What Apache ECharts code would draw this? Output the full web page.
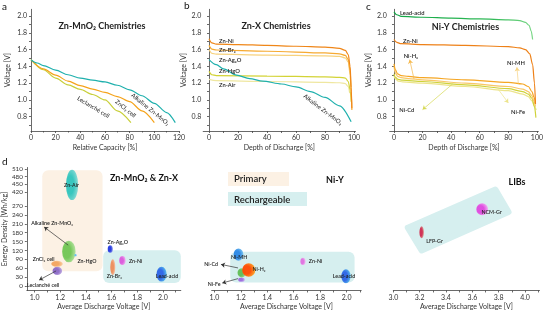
<!DOCTYPE html>
<html>
<head>
<meta charset="utf-8">
<title>Battery chemistries</title>
<script src="https://cdn.jsdelivr.net/npm/echarts@6.0.0/dist/echarts.min.js"></script>
<style>
html, body { margin: 0; padding: 0; background: #fff; }
#main { width: 546px; height: 316px; }
</style>
</head>
<body>
<div id="main"></div>
<script>
var chart = echarts.init(document.getElementById('main'));
var FONT = 'Lato';

// ---- a: Zn-MnO2 chemistries  [relative capacity %, V]
var aAlkaline = [[0,1.48],[5,1.44],[10,1.41],[20,1.355],[30,1.30],[40,1.26],[50,1.235],[60,1.215],[70,1.175],[80,1.12],[90,1.05],[100,0.96],[110,0.85],[117,0.73]];
var aZnCl2 = [[0,1.48],[10,1.37],[20,1.295],[30,1.225],[40,1.17],[50,1.13],[60,1.09],[70,1.04],[80,0.98],[90,0.87],[100,0.73]];
var aLeclanche = [[0,1.48],[10,1.36],[20,1.26],[30,1.18],[40,1.125],[50,1.065],[60,1.0],[70,0.87],[81,0.73]];

// ---- b: Zn-X chemistries  [depth of discharge %, V]
var bZnNi = [[0,1.73],[2,1.68],[5,1.665],[20,1.66],[40,1.65],[60,1.64],[80,1.63],[90,1.615],[94,1.59],[96,1.54],[97.3,1.4],[98,1.15],[98.5,0.9]];
var bZnBr2 = [[0,1.65],[2,1.605],[5,1.595],[40,1.58],[80,1.56],[90,1.55],[94,1.53],[96,1.48],[97.3,1.35],[98,1.1],[98.5,0.88]];
var bZnAg2O = [[0,1.60],[2,1.555],[5,1.545],[40,1.535],[80,1.525],[90,1.52],[94,1.5],[96,1.45],[97.3,1.3],[98,1.1],[98.3,0.95]];
var bZnHgO = [[0,1.34],[2,1.30],[5,1.29],[40,1.285],[80,1.275],[90,1.27],[94,1.26],[96,1.22],[97.3,1.12],[98,0.98]];
var bZnAir = [[0,1.245],[5,1.23],[40,1.22],[80,1.21],[90,1.205],[94,1.195],[96,1.16],[97,1.08]];
var bAlkaline = [[0,1.48],[5,1.42],[10,1.37],[19,1.295],[28,1.255],[37,1.225],[50,1.19],[60,1.155],[70,1.1],[80,1.03],[90,0.93],[98,0.74]];

// ---- c: Ni-Y chemistries  [depth of discharge %, V]
var cLeadAcid = [[0,2.05],[2,2.015],[5,1.995],[20,1.985],[40,1.975],[60,1.965],[80,1.955],[88,1.945],[92,1.925],[94.5,1.89],[96,1.82],[97,1.72]];
var cZnNi = [[0,1.72],[2,1.685],[5,1.67],[20,1.66],[50,1.65],[80,1.635],[88,1.62],[92,1.6],[95,1.55],[97,1.42],[98.3,1.2],[99,0.95]];
var cNiMH = [[0,1.43],[1,1.36],[2.5,1.31],[5,1.29],[10,1.28],[20,1.265],[50,1.24],[80,1.21],[90,1.19],[94,1.16],[96.5,1.1],[98,1.03],[99,0.96]];
var cNiH2 = [[0,1.40],[1,1.32],[2.5,1.28],[5,1.265],[10,1.255],[20,1.24],[50,1.20],[80,1.16],[90,1.13],[94,1.1],[96.5,1.05],[98,0.98],[99,0.92]];
var cNiCd = [[0,1.31],[1,1.27],[3,1.245],[6,1.235],[20,1.22],[50,1.18],[80,1.135],[90,1.10],[94,1.07],[96.5,1.02],[98.3,0.92],[99.3,0.79]];
var cNiFe = [[0,1.29],[1,1.25],[3,1.225],[6,1.215],[20,1.20],[50,1.16],[80,1.11],[90,1.07],[94,1.04],[96.5,0.99],[98.5,0.92],[99.5,0.88]];

// ---- d: energy density vs average discharge voltage  [Vmin, Vmax, Wh/kg min, Wh/kg max]
var d1Names = ['Zn-Air','Alkaline Zn-MnO₂','Zn-HgO','ZnCl₂ cell','Leclanché cell','Zn-Ag₂O','Zn-Ni','Zn-Br₂','Lead-acid'];
var d1Bubbles = [[1.245,1.34,334,507],[1.215,1.32,80,153],[1.31,1.33,100,108],[1.13,1.22,65,85],[1.14,1.215,37,65],[1.57,1.61,112,138],[1.66,1.71,71,101],[1.59,1.63,37,90],[1.95,2.03,15,65]];
var d2Names = ['Ni-MH','Ni-Fe','Ni-Cd','Ni-H₂','Zn-Ni','Lead-acid'];
var d2Bubbles = [[1.145,1.22,85,127],[1.18,1.23,14,29],[1.175,1.24,29,60],[1.21,1.31,31,77],[1.65,1.69,71,95],[1.96,2.03,9,57]];
var d3Names = ['NCM-Gr','LFP-Gr'];
var d3Bubbles = [[3.63,3.72,239,299],[3.198,3.233,161,202]];
var primaryBox = [[1.06,1.53,50,505]];
var rechargeBox1 = [[1.535,2.14,10,121]];
var rechargeBox2 = [[1.12,2.06,12,116]];
var libBox = [[3.11,197,3.775,430,3.875,250,3.215,120]];

// ticks
var voltTicks = [0.8,1.0,1.2,1.4,1.6,1.8,2.0];
var voltMinor = [0.7,0.8,0.9,1.0,1.1,1.2,1.3,1.4,1.5,1.6,1.7,1.8,1.9,2.0];
var pctTicks = [0,20,40,60,80,100];
var pctMinor = [0,10,20,30,40,50,60,70,80,90,100];
var energyTicks = [0,30,60,90,120,150,180,210,240,270,420,450,480,510];
var avgTicks = [1.0,1.2,1.4,1.6,1.8,2.0];
var avgMinor = [1.0,1.1,1.2,1.3,1.4,1.5,1.6,1.7,1.8,1.9,2.0,2.1];
var libTicks = [3.0,3.2,3.4,3.6,3.8,4.0];
var libMinor = [3.0,3.1,3.2,3.3,3.4,3.5,3.6,3.7,3.8,3.9,4.0,4.1];

// broken energy axis: 0-270 full scale, gap, 420-510 compressed
function toAxis(e) {
    if (e <= 270) return e;
    if (e >= 420) return 317 + (e - 420) * 0.865;
    return 270 + (e - 270) * 47 / 150;
}
function fromAxis(t) {
    if (t <= 270) return t;
    if (t >= 317) return 420 + (t - 317) / 0.865;
    return 270 + (t - 270) * 150 / 47;
}

var d1Colors = [['#2ec4bc','#9fe0dc'],['#6fc653','#c2e8b0'],['#62bdf0','#b5e0f6'],
    ['#f3a45e','#fad9b4'],['#8a68c6','#cdbde8'],['#2236df','#9aa4f0'],
    ['#dc58dc','#f4c4f4'],['#ee8c5a','#f9d2bb'],['#2a62e6','#5fd6f0']];
var d2Colors = [['#2a88e6','#8fd4f2'],['#9c6ade','#d2bff2'],['#5fbd55','#b2e2a2'],
    ['#ff4a00','#fbc232'],['#e070e0','#f6d0f6'],['#2a62e6','#5fd6f0']];
var d3Colors = [['#e048e0','#f8caf8'],['#d02a50','#d8dcb8']];

function bubbleRender(colors) {
    return function (params, api) {
        var p0 = api.coord([api.value(0), toAxis(api.value(2))]);
        var p1 = api.coord([api.value(1), toAxis(api.value(3))]);
        var c = colors[params.dataIndex];
        return {
            type: 'circle',
            shape: {cx: 0, cy: 0, r: 1},
            x: (p0[0] + p1[0]) / 2,
            y: (p0[1] + p1[1]) / 2,
            scaleX: Math.abs(p1[0] - p0[0]) / 2,
            scaleY: Math.abs(p1[1] - p0[1]) / 2,
            style: {fill: {type: 'radial', x: 0.35, y: 0.5, r: 0.75,
                colorStops: [{offset: 0, color: c[0]}, {offset: 0.4, color: c[0]}, {offset: 1, color: c[1]}]},
                opacity: 0.95}
        };
    };
}
function boxRender(fill) {
    return function (params, api) {
        var p0 = api.coord([api.value(0), toAxis(api.value(2))]);
        var p1 = api.coord([api.value(1), toAxis(api.value(3))]);
        return {
            type: 'rect',
            shape: {x: Math.min(p0[0], p1[0]), y: Math.min(p0[1], p1[1]),
                width: Math.abs(p1[0] - p0[0]), height: Math.abs(p1[1] - p0[1]), r: 6},
            style: {fill: fill}
        };
    };
}
function tiltedRender(params, api) {
    var pts = [];
    for (var i = 0; i < 4; i++) {
        pts.push(api.coord([api.value(i * 2), toAxis(api.value(i * 2 + 1))]));
    }
    return {type: 'polygon', shape: {points: pts},
        style: {fill: '#d6efef', stroke: '#d6efef', lineWidth: 6, lineJoin: 'round'}};
}

var lineBase = {color: '#444', width: 0.8};
var tickFont = {fontFamily: FONT, fontSize: 7, color: '#333'};
var nameFont = {fontFamily: FONT, fontSize: 7, color: '#333'};
function voltAxis(grid, gap, margin) {
    return {
        gridIndex: grid, type: 'value', min: 0.63, max: 2.08,
        name: 'Voltage [V]', nameLocation: 'middle', nameGap: gap, nameTextStyle: nameFont,
        axisLine: {show: true, lineStyle: lineBase},
        axisTick: {show: true, length: 2, lineStyle: lineBase, customValues: voltMinor},
        axisLabel: Object.assign({margin: margin, customValues: voltTicks,
            formatter: function (v) { return v.toFixed(1); }}, tickFont),
        splitLine: {show: false}
    };
}
function pctAxis(grid, min, max, name) {
    return {
        gridIndex: grid, type: 'value', min: min, max: max,
        name: name, nameLocation: 'middle', nameGap: 13, nameTextStyle: nameFont,
        axisLine: {show: true, onZero: false, lineStyle: lineBase},
        axisTick: {show: true, length: 2, lineStyle: lineBase, customValues: pctMinor},
        axisLabel: Object.assign({margin: 3, customValues: pctTicks}, tickFont),
        splitLine: {show: false}
    };
}
function avgAxis(grid, min, max, ticks, minor) {
    return {
        gridIndex: grid, type: 'value', min: min, max: max,
        name: 'Average Discharge Voltage [V]', nameLocation: 'middle', nameGap: 13, nameTextStyle: nameFont,
        axisLine: {show: true, onZero: false, lineStyle: lineBase},
        axisTick: {show: true, length: 2, lineStyle: lineBase, customValues: minor},
        axisLabel: Object.assign({margin: 4, customValues: ticks,
            formatter: function (v) { return v.toFixed(1); }}, tickFont),
        splitLine: {show: false}
    };
}
function energyAxis(grid, show) {
    return {
        gridIndex: grid, type: 'value', min: -15, max: 400, show: show,
        name: 'Energy Density [Wh/kg]', nameLocation: 'middle', nameGap: 14, nameTextStyle: nameFont,
        axisLine: {show: true, lineStyle: lineBase},
        axisTick: {show: true, length: 2, lineStyle: lineBase, customValues: energyTicks.map(toAxis)},
        axisLabel: {fontFamily: FONT, fontSize: 6.3, color: '#333', margin: 4, customValues: energyTicks.map(toAxis),
            formatter: function (v) { return Math.round(fromAxis(v)); }},
        splitLine: {show: false}
    };
}

function curve(name, grid, data, color, width) {
    return {
        name: name, type: 'line', xAxisIndex: grid, yAxisIndex: grid,
        data: data, showSymbol: false, smooth: 0.3, smoothMonotone: 'x',
        lineStyle: {color: color, width: width || 1.2}, silent: true
    };
}
function arrows(grid, color, list) {
    return {
        type: 'line', xAxisIndex: grid, yAxisIndex: grid, data: [], silent: true,
        markLine: {
            silent: true, symbol: ['none', 'arrow'], symbolSize: 4,
            label: {show: false},
            lineStyle: {color: color, width: 0.7, type: 'solid'},
            data: list.map(function (a) {
                return [{coord: a[0], lineStyle: {curveness: a[2]}}, {coord: a[1]}];
            })
        }
    };
}

var leadGrad = {type: 'linear', x: 0, y: 0, x2: 1, y2: 0,
    colorStops: [{offset: 0, color: '#12a645'}, {offset: 0.7, color: '#2fb956'}, {offset: 1, color: '#7fd98a'}]};

var option = {
    animation: false,
    backgroundColor: '#fff',
    grid: [
        {left: 31, top: 9.3, width: 148, height: 121.7},
        {left: 203.2, top: 9.3, width: 152.3, height: 121.7},
        {left: 389.7, top: 9.3, width: 149.8, height: 121.7},
        {left: 26, top: 167.5, width: 154.8, height: 122.96},
        {left: 211.7, top: 167.5, width: 149.5, height: 122.96},
        {left: 393.3, top: 167.5, width: 146.2, height: 122.96}
    ],
    xAxis: [
        {
            gridIndex: 0, type: 'value', min: 0, max: 120, interval: 20,
            name: 'Relative Capacity [%]', nameLocation: 'middle', nameGap: 13, nameTextStyle: nameFont,
            axisLine: {show: true, onZero: false, lineStyle: lineBase},
            axisTick: {show: true, length: 2, lineStyle: lineBase},
            minorTick: {show: true, splitNumber: 2, length: 1.5, lineStyle: lineBase},
            axisLabel: Object.assign({margin: 3}, tickFont),
            splitLine: {show: false}
        },
        pctAxis(1, -4, 101, 'Depth of Discharge [%]'),
        pctAxis(2, -3, 101, 'Depth of Discharge [%]'),
        avgAxis(3, 0.94, 2.14, avgTicks, avgMinor),
        avgAxis(4, 0.98, 2.11, avgTicks, avgMinor),
        avgAxis(5, 3.0, 4.11, libTicks, libMinor)
    ],
    yAxis: [
        voltAxis(0, 20, 4),
        voltAxis(1, 12, 2),
        voltAxis(2, 17, 3),
        energyAxis(3, true),
        energyAxis(4, false),
        energyAxis(5, false)
    ],
    series: [
        curve('Leclanché cell', 0, aLeclanche, '#c8cf3a'),
        curve('ZnCl2 cell', 0, aZnCl2, '#f5a31a'),
        curve('Alkaline Zn-MnO2', 0, aAlkaline, '#1fb0ad'),

        curve('Zn-Air', 1, bZnAir, '#efe7a0'),
        curve('Zn-HgO', 1, bZnHgO, '#d3d336'),
        curve('Zn-Ag2O', 1, bZnAg2O, '#f7d27e'),
        curve('Zn-Br2', 1, bZnBr2, '#f6aa32'),
        curve('Zn-Ni', 1, bZnNi, '#ef8618'),
        curve('Alkaline Zn-MnO2 b', 1, bAlkaline, '#1fb0ad'),

        curve('Ni-Fe', 2, cNiFe, '#ece48c'),
        curve('Ni-Cd', 2, cNiCd, '#cfd23a'),
        curve('Ni-H2', 2, cNiH2, '#f8c766'),
        curve('Ni-MH', 2, cNiMH, '#f5a623'),
        curve('Zn-Ni c', 2, cZnNi, '#ee8118'),
        curve('Lead-acid', 2, cLeadAcid, leadGrad),
        arrows(2, '#f5b84a', [[[14, 1.25], [11, 1.48], 0.35]]),
        arrows(2, '#f6d380', [[[87, 1.195], [86, 1.39], -0.3]]),
        arrows(2, '#d5d852', [[[41, 1.19], [20, 0.885], -0.3]]),
        arrows(2, '#ece48c', [[[73, 1.125], [80, 0.965], 0.3]]),

        {type: 'custom', name: 'Primary', xAxisIndex: 3, yAxisIndex: 3, z: 1, silent: true,
            renderItem: boxRender('#fcf1e4'), data: primaryBox},
        {type: 'custom', name: 'Rechargeable', xAxisIndex: 3, yAxisIndex: 3, z: 1, silent: true,
            renderItem: boxRender('#d6efef'), data: rechargeBox1},
        {type: 'custom', name: 'Rechargeable 2', xAxisIndex: 4, yAxisIndex: 4, z: 1, silent: true,
            renderItem: boxRender('#d6efef'), data: rechargeBox2},
        {type: 'custom', name: 'LIBs box', xAxisIndex: 5, yAxisIndex: 5, z: 1, silent: true,
            renderItem: tiltedRender, data: libBox},
        {type: 'custom', name: 'd1', xAxisIndex: 3, yAxisIndex: 3, z: 2, silent: true,
            renderItem: bubbleRender(d1Colors), data: d1Bubbles},
        {type: 'custom', name: 'd2', xAxisIndex: 4, yAxisIndex: 4, z: 2, silent: true,
            renderItem: bubbleRender(d2Colors), data: d2Bubbles},
        {type: 'custom', name: 'd3', xAxisIndex: 5, yAxisIndex: 5, z: 2, silent: true,
            renderItem: bubbleRender(d3Colors), data: d3Bubbles},
        arrows(3, '#333', [[[1.262, 138], [1.075, 199], -0.35], [[1.168, 51], [1.036, 20], 0]]),
        arrows(4, '#333', [[[1.179, 61], [1.05, 73], 0], [[1.179, 25], [1.06, 10], 0]])
    ]
};
chart.setOption(option);

// text annotations: [grid, x, y(axis units), text, align, rotation deg, size, weight]
var notes = [
    [0, 57.6, 1.88, 'Zn-MnO₂ Chemistries', 'center', 0, 9, 'bold'],
    [0, 50.5, 0.913, 'Leclanché cell', 'center', -31, 6, 'normal'],
    [0, 76.6, 0.895, 'ZnCl₂ cell', 'center', -39, 6, 'normal'],
    [0, 96.7, 0.887, 'Alkaline Zn-MnO₂', 'center', -39, 6, 'normal'],

    [1, 46.2, 1.88, 'Zn-X Chemistries', 'center', 0, 9, 'bold'],
    [1, 6.9, 1.695, 'Zn-Ni', 'left', 0, 5.8, '600'],
    [1, 6.9, 1.596, 'Zn-Br₂', 'left', 0, 5.8, '600'],
    [1, 6.9, 1.477, 'Zn-Ag₂O', 'left', 0, 5.8, '600'],
    [1, 6.9, 1.338, 'Zn-HgO', 'left', 0, 5.8, '600'],
    [1, 6.9, 1.18, 'Zn-Air', 'left', 0, 5.8, '600'],
    [1, 78.5, 0.884, 'Alkaline Zn-MnO₂', 'center', -37, 6, 'normal'],

    [2, 50, 1.87, 'Ni-Y Chemistries', 'center', 0, 9, 'bold'],
    [2, 4.2, 2.036, 'Lead-acid', 'left', 0, 5.8, '600'],
    [2, 6.3, 1.70, 'Zn-Ni', 'left', 0, 5.8, '600'],
    [2, 11.8, 1.525, 'Ni-H₂', 'center', 0, 5.8, '600'],
    [2, 85.4, 1.44, 'Ni-MH', 'center', 0, 5.8, '600'],
    [2, 9, 0.884, 'Ni-Cd', 'center', 0, 5.8, '600'],
    [2, 86.8, 0.86, 'Ni-Fe', 'center', 0, 5.8, '600'],

    [3, 1.288, 340, 'Zn-Air', 'center', 0, 5.3, '600'],
    [3, 1.137, 212, 'Alkaline Zn-MnO₂', 'center', 0, 5.3, '600'],
    [3, 1.071, 91, 'ZnCl₂ cell', 'center', 0, 5.3, '600'],
    [3, 1.409, 84, 'Zn-HgO', 'center', 0, 5.3, '600'],
    [3, 1.067, 3, 'Leclanché cell', 'center', 0, 5.3, '600'],
    [3, 1.649, 148, 'Zn-Ag₂O', 'center', 0, 5.3, '600'],
    [3, 1.788, 84, 'Zn-Ni', 'center', 0, 5.3, '600'],
    [3, 1.622, 34, 'Zn-Br₂', 'center', 0, 5.3, '600'],
    [3, 2.033, 34, 'Lead-acid', 'center', 0, 5.3, '600'],

    [4, 1.187, 98, 'Ni-MH', 'center', 0, 5.3, '600'],
    [4, 1.338, 57, 'Ni-H₂', 'center', 0, 5.3, '600'],
    [4, 0.975, 74, 'Ni-Cd', 'center', 0, 5.3, '600'],
    [4, 0.998, 7, 'Ni-Fe', 'center', 0, 5.3, '600'],
    [4, 1.765, 84, 'Zn-Ni', 'center', 0, 5.3, '600'],
    [4, 1.98, 34, 'Lead-acid', 'center', 0, 5.3, '600'],

    [5, 3.746, 250, 'NCM-Gr', 'center', 0, 5.3, '600'],
    [5, 3.313, 152, 'LFP-Gr', 'center', 0, 5.3, '600']
];

function textEl(x, y, text, align, rot, size, weight, color) {
    return {
        type: 'text', x: x, y: y, rotation: rot * Math.PI / 180, z: 100, silent: true,
        style: {text: text, fill: color || '#222', fontFamily: FONT, fontSize: size, fontWeight: weight,
            align: align, verticalAlign: 'middle', textAlign: align, textVerticalAlign: 'middle'}
    };
}

var graphics = notes.map(function (n) {
    var p = chart.convertToPixel({gridIndex: n[0]}, [n[1], n[2]]);
    return textEl(p[0], p[1], n[3], n[4], n[5], n[6], n[7]);
});

// panel letters, headings and the little legend
graphics.push(textEl(2, 7, 'a', 'left', 0, 10, 'normal', '#111'));
graphics.push(textEl(184, 6, 'b', 'left', 0, 10, 'normal', '#111'));
graphics.push(textEl(366, 7, 'c', 'left', 0, 10, 'normal', '#111'));
graphics.push(textEl(2, 162, 'd', 'left', 0, 10, 'normal', '#111'));
graphics.push(textEl(144, 178, 'Zn-MnO₂ & Zn-X', 'center', 0, 9, 'bold', '#111'));
graphics.push(textEl(335, 180, 'Ni-Y', 'center', 0, 9, 'bold', '#111'));
graphics.push(textEl(517, 182, 'LIBs', 'center', 0, 9, 'bold', '#111'));
graphics.push({type: 'rect', shape: {x: 228, y: 172, width: 61, height: 14}, style: {fill: '#fcf1e4'}, z: 90, silent: true});
graphics.push({type: 'rect', shape: {x: 228, y: 192, width: 79, height: 14}, style: {fill: '#d6efef'}, z: 90, silent: true});
graphics.push(textEl(234, 179, 'Primary', 'left', 0, 9.5, '600', '#222'));
graphics.push(textEl(234, 199.5, 'Rechargeable', 'left', 0, 9.5, '600', '#222'));

chart.setOption({graphic: graphics});
</script>
</body>
</html>
